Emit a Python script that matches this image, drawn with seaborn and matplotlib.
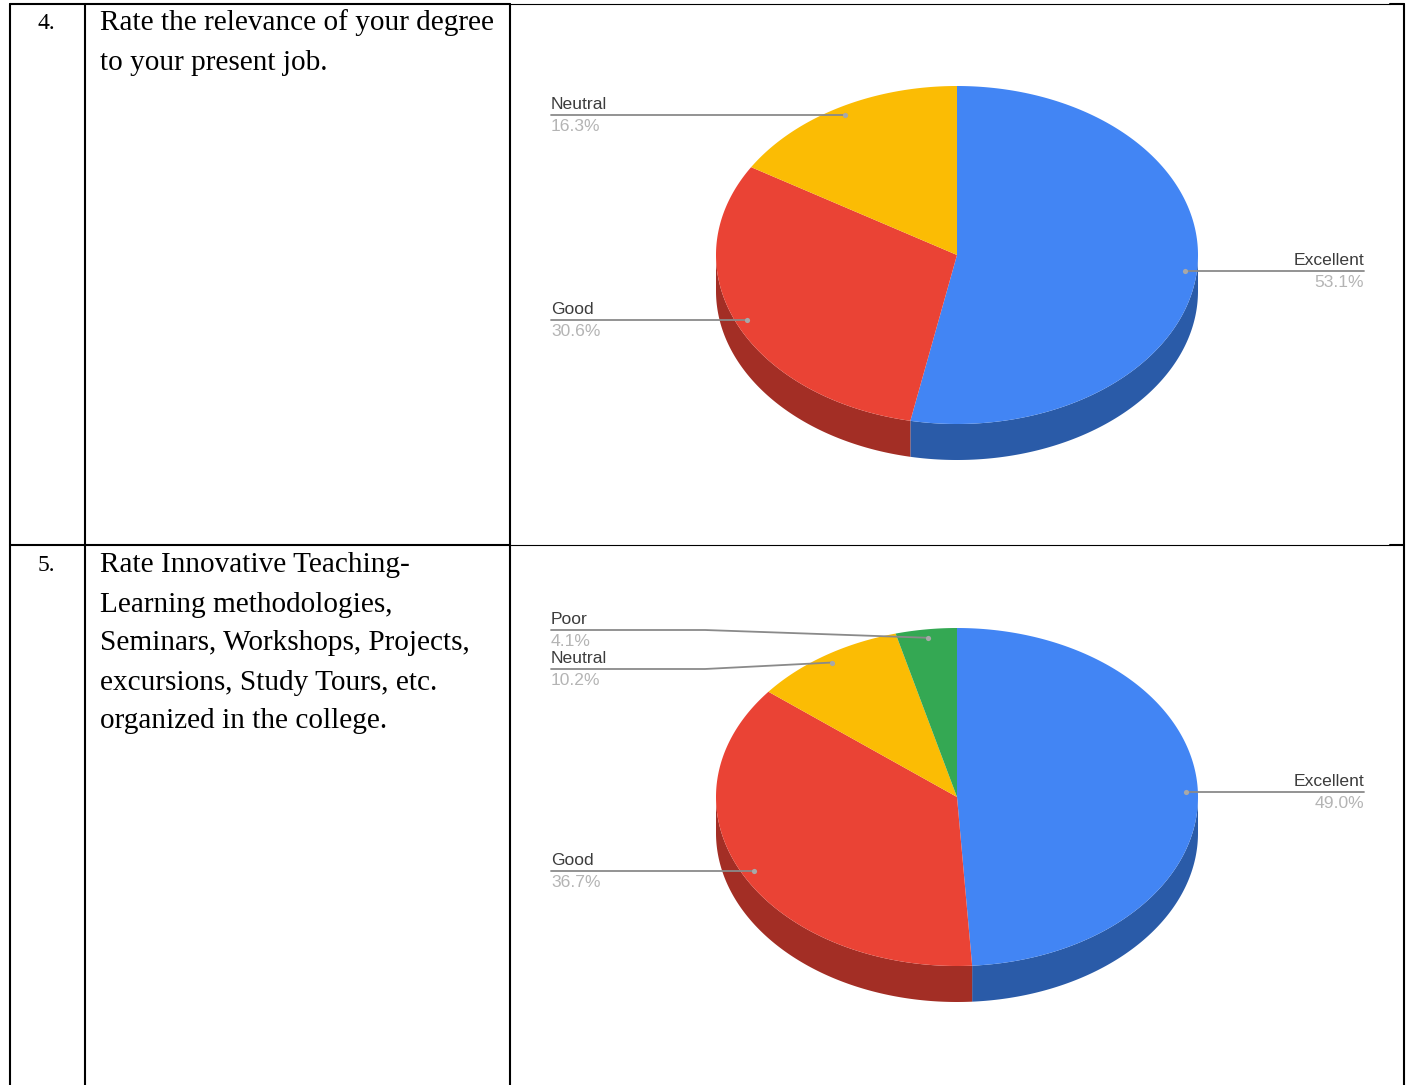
import matplotlib
matplotlib.use('Agg')
import matplotlib.pyplot as plt
import seaborn as sns
import numpy as np

# question rows
row_numbers = ['4.', '5.']
row_questions = [
    ['Rate the relevance of your degree', 'to your present job.'],
    ['Rate Innovative Teaching-', 'Learning methodologies,', 'Seminars, Workshops, Projects,',
     'excursions, Study Tours, etc.', 'organized in the college.'],
]

# pie data
labels_q4 = ['Excellent', 'Good', 'Neutral']
values_q4 = [53.1, 30.6, 16.3]
labels_q5 = ['Excellent', 'Good', 'Neutral', 'Poor']
values_q5 = [49.0, 36.7, 10.2, 4.1]

top_colors = {'Excellent': '#4285f4', 'Good': '#ea4335', 'Neutral': '#fbbc04', 'Poor': '#34a853'}
side_colors = {'Excellent': '#2a5ba8', 'Good': '#a32e25', 'Neutral': '#b08403', 'Poor': '#24753a'}

RX, RY, DEPTH = 241, 169, 36


def ellipse_pts(cx, cy, a0, a1, n=200):
    # angles are clockwise from 12 o'clock, in degrees
    t = np.radians(np.linspace(a0, a1, n))
    return cx + RX * np.sin(t), cy - RY * np.cos(t)


def draw_pie(ax, cx, cy, labels, values, label_pos):
    edges = np.concatenate(([0], np.cumsum(values))) * 3.6
    # side wall first, only the front half (90..270 deg) shows
    for lab, a0, a1 in zip(labels, edges[:-1], edges[1:]):
        lo, hi = max(a0, 90), min(a1, 270)
        if lo >= hi:
            continue
        x, y = ellipse_pts(cx, cy, lo, hi)
        ax.fill(np.r_[x, x[::-1]], np.r_[y, y[::-1] + DEPTH], color=side_colors[lab], lw=0)
    # top faces
    for lab, a0, a1 in zip(labels, edges[:-1], edges[1:]):
        x, y = ellipse_pts(cx, cy, a0, a1)
        ax.fill(np.r_[cx, x], np.r_[cy, y], color=top_colors[lab], lw=0)
    # leader lines and labels
    for lab, val, a0, a1 in zip(labels, values, edges[:-1], edges[1:]):
        mid = np.radians((a0 + a1) / 2)
        dx = cx + 0.95 * RX * np.sin(mid)
        dy = cy - 0.95 * RY * np.cos(mid)
        ly = dy if label_pos[lab] is None else label_pos[lab]
        if np.sin(mid) > 0:
            ax.plot([dx, 1364], [ly, ly], color='#8a8a8a', lw=1.3, zorder=5)
            tx, ha = 1364, 'right'
        else:
            ax.plot([551, 705, dx], [ly, ly, dy], color='#8a8a8a', lw=1.3, zorder=5)
            tx, ha = 551, 'left'
        ax.scatter([dx], [dy], s=14, color='#a8a8a8', lw=0, zorder=6)
        ax.text(tx, ly - 6, lab, ha=ha, va='baseline', fontsize=12.6, color='#3c3c3c', family='Liberation Sans')
        ax.text(tx, ly + 16, f'{val:.1f}%', ha=ha, va='baseline', fontsize=12.6, color='#b4b4b4', family='Liberation Sans')


sns.set_theme(style='white')
fig = plt.figure(figsize=(14.10, 10.85), dpi=100)
ax = fig.add_axes([0, 0, 1, 1])
ax.set_xlim(0, 1410)
ax.set_ylim(1085, 0)
ax.axis('off')

# table rules
for x in [10, 85, 510, 1403.5]:
    ax.plot([x, x], [4, 1085], color='black', lw=1.5)
for y in [4, 545]:
    ax.plot([10, 510], [y, y], color='black', lw=1.5)
    ax.plot([510, 1390], [y - 0.5, y - 0.5], color='black', lw=0.8)
    ax.plot([1390, 1403.5], [y, y], color='black', lw=1.5)

# question text
for num, lines, y0 in zip(row_numbers, row_questions, [30.5, 572.5]):
    ax.text(46, y0 - 1.5, num, ha='center', va='baseline', fontsize=17, color='black', family='Liberation Serif')
    for i, line in enumerate(lines):
        ax.text(100, y0 + i * 39, line, ha='left', va='baseline', fontsize=21.1, color='black', family='Liberation Serif')

draw_pie(ax, 957, 255, labels_q4, values_q4, {'Excellent': None, 'Good': None, 'Neutral': None})
draw_pie(ax, 957, 797, labels_q5, values_q5, {'Excellent': None, 'Good': None, 'Neutral': 669, 'Poor': 630})

fig.savefig('out.png', dpi=100)
